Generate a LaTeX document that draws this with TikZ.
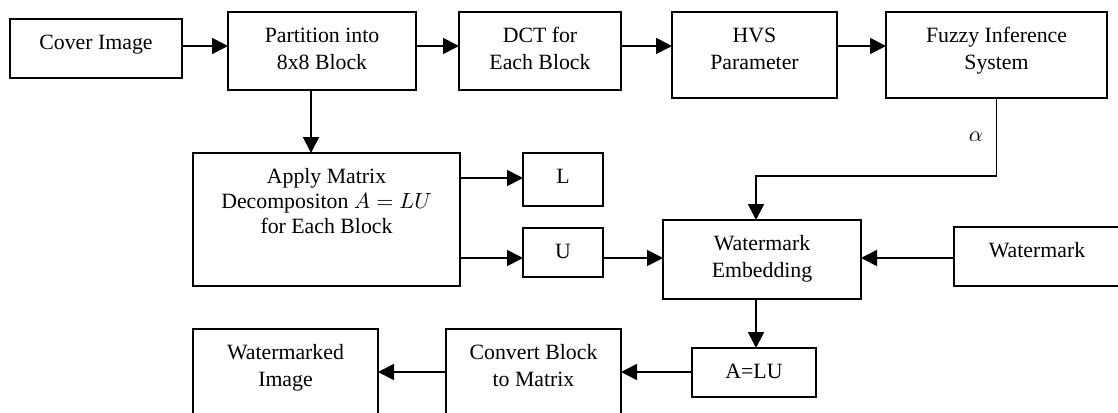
\documentclass[tikz,border=0pt]{standalone}
\usepackage{fontspec}
\setmainfont{Liberation Serif}
\usetikzlibrary{arrows.meta,positioning}
% box text sits at the top of a fixed-size box
\newcommand{\blocktext}[3]{\parbox[c][#2][t]{#1}{\centering\rule{0pt}{15.25pt}#3}}

\begin{document}
\begin{tikzpicture}[
    x=0.5pt, y=-0.5pt,
    block/.style={draw, line width=0.9pt, inner sep=0pt, outer sep=0pt, font=\fontsize{10.9pt}{13.5pt}\selectfont},
    arrow/.style={-{Triangle[length=8pt,width=8pt]}, line width=0.9pt}
]
\useasboundingbox (0,0) rectangle (1118,412);
\clip (0,0) rectangle (1118,412);
\node[block] (cover) at (96,48.5) {\blocktext{86pt}{29.5pt}{Cover Image}};
\node[block] (part) at (322,51) {\blocktext{94pt}{39pt}{Partition into\\ 8x8 Block}};
\node[block] (dct) at (540,51) {\blocktext{81pt}{39pt}{DCT for\\ Each Block}};
\node[block] (hvs) at (754.5,55) {\blocktext{82.5pt}{43pt}{HVS\\ Parameter}};
\node[block] (fis) at (996.5,55) {\blocktext{110.5pt}{43pt}{Fuzzy Inference\\ System}};
\node[block] (apply) at (326.5,219.5) {\blocktext{133.5pt}{66.5pt}{Apply Matrix\\[-1pt] Decompositon $A=LU$\\[-1pt] for Each Block}};
\node[block] (L) at (563,179.5) {\blocktext{40pt}{26.5pt}{L}};
\node[block] (U) at (563,252.5) {\blocktext{40pt}{24.5pt}{U}};
\node[block] (emb) at (762,259.5) {\blocktext{99pt}{39.5pt}{Watermark\\ Embedding}};
\node[block] (wm) at (1037,256.5) {\blocktext{83pt}{29.5pt}{Watermark}};
\node[block] (alu) at (754,372.5) {\blocktext{62pt}{24.5pt}{A=LU}};
\node[block] (conv) at (533.5,379.5) {\blocktext{87.5pt}{50.5pt}{Convert Block\\ to Matrix}};
\node[block] (wmi) at (285.5,379.5) {\blocktext{92.5pt}{50.5pt}{Watermarked\\ Image}};
\coordinate (toprow) at (0,46);
\coordinate (lrow) at (0,178);
\coordinate (midrow) at (0,258);
\coordinate (botrow) at (0,372);
\coordinate (bend) at (0,176);
\draw[arrow] (cover.east |- toprow) -- (part.west |- toprow);
\draw[arrow] (part.east |- toprow) -- (dct.west |- toprow);
\draw[arrow] (dct.east |- toprow) -- (hvs.west |- toprow);
\draw[arrow] (hvs.east |- toprow) -- (fis.west |- toprow);
\draw[arrow] ([xshift=-5.5pt]part.south) -- ([xshift=-5.5pt]part.south |- apply.north);
\draw[arrow] (apply.east |- lrow) -- (L.west |- lrow);
\draw[arrow] (apply.east |- midrow) -- (U.west |- midrow);
\draw[arrow] (U.east |- midrow) -- (emb.west |- midrow);
\draw[arrow] (wm.west |- midrow) -- (emb.east |- midrow);
\draw[arrow] (fis.south) -- node[left=3pt, font=\fontsize{10.9pt}{13.5pt}\selectfont] {$\alpha$} (fis.south |- bend) -| ([xshift=-3pt]emb.north);
\draw[arrow] ([xshift=-3pt]emb.south) -- ([xshift=-3pt]emb.south |- alu.north);
\draw[arrow] (alu.west |- botrow) -- (conv.east |- botrow);
\draw[arrow] (conv.west |- botrow) -- (wmi.east |- botrow);
\end{tikzpicture}
\end{document}
